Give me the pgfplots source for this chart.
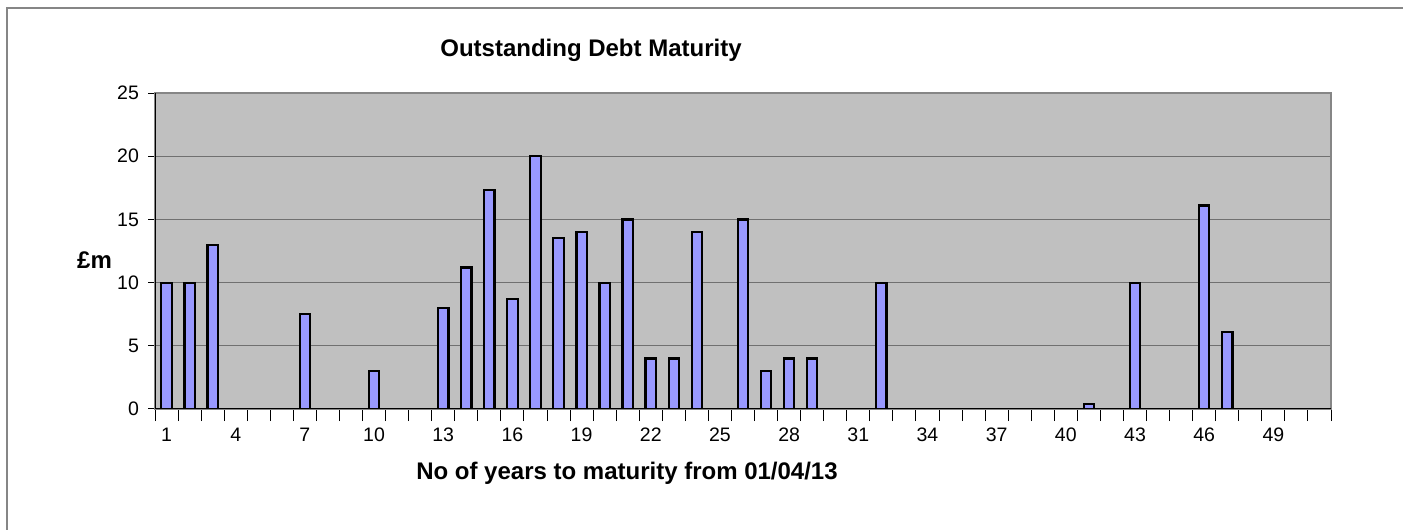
\documentclass[border=0pt]{standalone}
\usepackage{pgfplots}
\pgfplotsset{compat=1.18}
\usepackage{fontspec}
\setmainfont{Liberation Sans}
\definecolor{plotbg}{HTML}{C0C0C0}
\definecolor{barfill}{HTML}{9999FF}
\definecolor{gridc}{HTML}{707070}
\definecolor{framec}{HTML}{868686}
\begin{document}
\begin{tikzpicture}
\useasboundingbox (0,0) rectangle (701.5pt,265pt);
\draw[framec, line width=1pt] (3.5pt,-2pt) -- (3.5pt,261pt) -- (705pt,261pt);
\begin{axis}[
    at={(77.5pt,60.5pt)}, anchor=south west,
    scale only axis, width=588pt, height=158pt,
    xmin=0.5, xmax=51.5, ymin=0, ymax=25,
    axis background/.style={fill=plotbg},
    axis line style={draw=framec, line width=1pt},
    ybar, bar width=0.45,
    xtick={1,4,...,49}, major x tick style={draw=none},
    minor xtick={0.5,1.5,...,51.5},
    ytick={0,5,...,25},
    xtick pos=lower, ytick pos=left,
    tick align=outside,
    minor tick length=6pt, major tick length=3.5pt,
    tick style={black, line width=0.5pt},
    ymajorgrids, grid style={gridc, line width=0.6pt},
    /pgf/number format/assume math mode=true,
    ticklabel style={font=\fontsize{9.75}{12}\selectfont},
    xticklabel style={yshift=-2.5pt},
    yticklabel style={xshift=-1pt},
]
\addplot[fill=barfill, draw=black, line width=1.1pt] coordinates {
    (1,10) (2,10) (3,13) (7,7.5) (10,3) (13,8) (14,11.2) (15,17.3)
    (16,8.7) (17,20) (18,13.5) (19,14) (20,10) (21,15) (22,4) (23,4)
    (24,14) (26,15) (27,3) (28,4) (29,4) (32,10) (41,0.4) (43,10)
    (46,16.1) (47,6.1)
};
\draw[black, line width=0.7pt] (rel axis cs:0,0) -- (rel axis cs:0,1);
\draw[black, line width=0.7pt] (rel axis cs:0,0) -- (rel axis cs:1,0);
\end{axis}
\node[font=\bfseries\fontsize{12}{14}\selectfont] at (295.5pt,240pt) {Outstanding Debt Maturity};
\node[font=\bfseries\fontsize{12}{14}\selectfont] at (313.5pt,28.5pt) {No of years to maturity from 01/04/13};
\node[font=\bfseries\fontsize{12}{14}\selectfont] at (47.25pt,135pt) {£m};
\end{tikzpicture}
\end{document}
